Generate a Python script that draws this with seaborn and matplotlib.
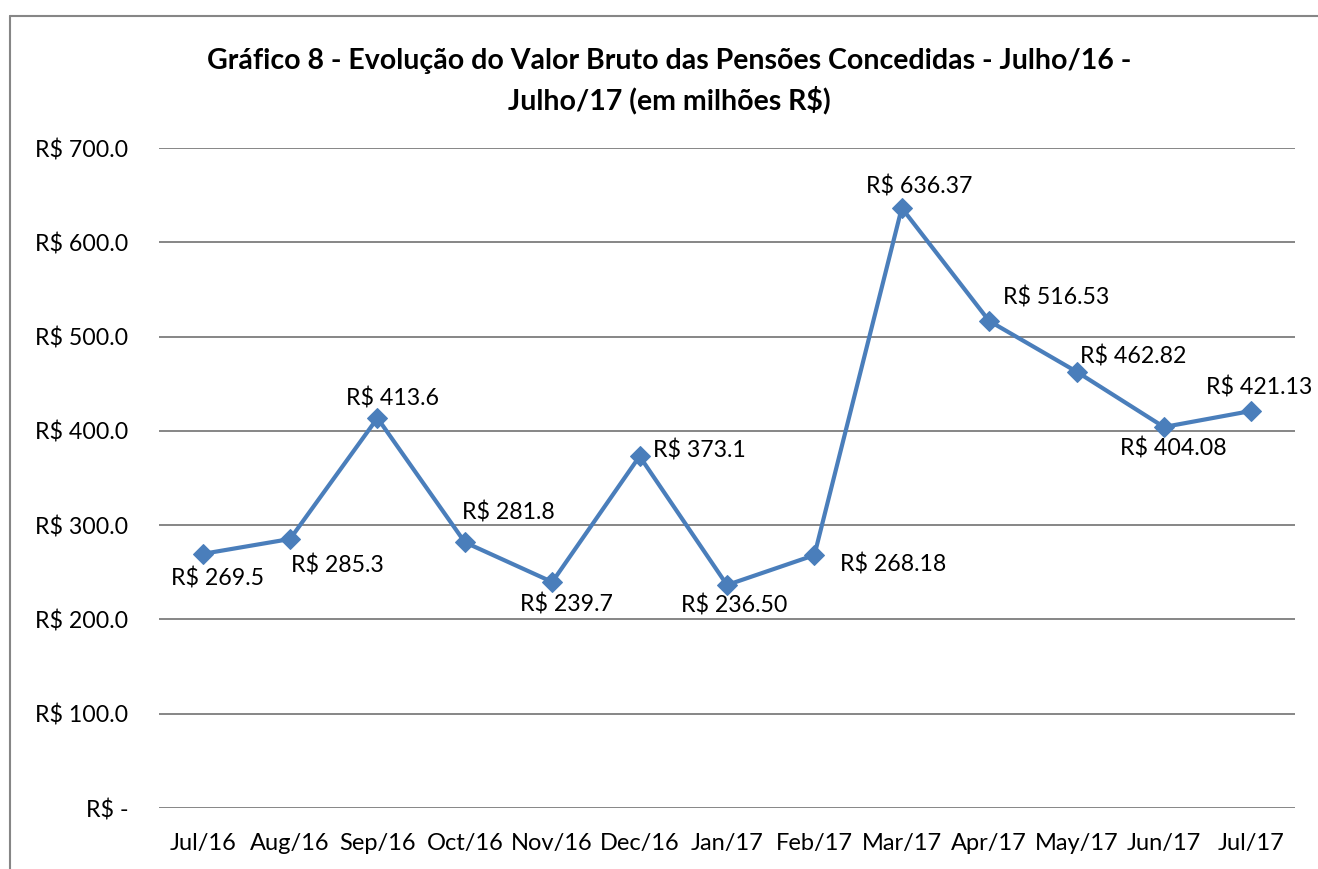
import matplotlib
matplotlib.use("Agg")
import matplotlib.pyplot as plt
import pandas as pd
import seaborn as sns
from matplotlib.lines import Line2D

# data
months = ["Jul/16", "Aug/16", "Sep/16", "Oct/16", "Nov/16", "Dec/16", "Jan/17",
          "Feb/17", "Mar/17", "Apr/17", "May/17", "Jun/17", "Jul/17"]
values = [269.5, 285.3, 413.6, 281.8, 239.7, 373.1, 236.50,
          268.18, 636.37, 516.53, 462.82, 404.08, 421.13]
value_labels = ["R$ 269.5", "R$ 285.3", "R$ 413.6", "R$ 281.8", "R$ 239.7", "R$ 373.1",
                "R$ 236.50", "R$ 268.18", "R$ 636.37", "R$ 516.53", "R$ 462.82",
                "R$ 404.08", "R$ 421.13"]
y_ticks = [0, 100, 200, 300, 400, 500, 600, 700]
y_tick_labels = ["R$ -", "R$ 100.0", "R$ 200.0", "R$ 300.0", "R$ 400.0",
                 "R$ 500.0", "R$ 600.0", "R$ 700.0"]

# label offsets in pixels (dx, dy), mimicking the Excel label placement
label_offsets = [(15, -25), (47, -26), (15, 20), (44, 30), (14, -23), (60, 6),
                 (7, -20), (79, -9), (17, 21), (67, 23), (57, 15), (9, -21), (8, 23)]

sns.set_theme(style="white")
plt.rcParams["font.family"] = ["Lato", "DejaVu Sans"]
plt.rcParams["text.color"] = "black"

df = pd.DataFrame({"month": months, "value": values})

fig = plt.figure(figsize=(13.18, 8.69), dpi=100)
ax = fig.add_axes([159 / 1318, 1 - 808 / 869, (1295 - 159) / 1318, (808 - 148) / 869])

line_color = "#4A7EBB"
sns.lineplot(data=df, x="month", y="value", ax=ax, sort=False, color=line_color,
             linewidth=3.0, marker="D", markersize=10, markeredgecolor=line_color,
             markerfacecolor=line_color)

ax.set_xlim(-0.5, len(months) - 0.5)
ax.set_ylim(0, 700)
ax.set_yticks(y_ticks)
ax.set_yticklabels(y_tick_labels)
ax.set_xticks(range(len(months)))
ax.set_xticklabels(months)
ax.tick_params(axis="y", length=0, pad=22, labelsize=16.7, labelcolor="black")
ax.tick_params(axis="x", length=0, pad=18, labelsize=17, labelcolor="black")
ax.set_xlabel("")
ax.set_ylabel("")
for s in ax.spines.values():
    s.set_visible(False)
ax.grid(False)
for t in y_ticks:
    ax.axhline(t, color="#868686", linewidth=1.4, zorder=0)

for i, (v, lab) in enumerate(zip(values, value_labels)):
    dx, dy = label_offsets[i]
    ax.annotate(lab, xy=(i, v), xytext=(dx, dy), textcoords="offset pixels",
                ha="center", va="center", fontsize=16.7, color="black")

fig.text(669 / 1318, 1 - 61 / 869,
         "Gráfico 8 - Evolução do Valor Bruto das Pensões Concedidas - Julho/16 -",
         ha="center", va="center", fontsize=20.5, fontweight="bold", color="black")
fig.text(669 / 1318, 1 - 100 / 869, "Julho/17 (em milhões R$)",
         ha="center", va="center", fontsize=20.5, fontweight="bold", color="black")

# chart border (cropped at the right and bottom in the reference)
x0 = 10 / 1318
y0 = 1 - 16 / 869
fig.add_artist(Line2D([x0, 1.0], [y0, y0], transform=fig.transFigure,
                      color="#868686", linewidth=1.5))
fig.add_artist(Line2D([x0, x0], [0.0, y0], transform=fig.transFigure,
                      color="#868686", linewidth=1.5))

fig.savefig("out.png", dpi=100, facecolor="white")
